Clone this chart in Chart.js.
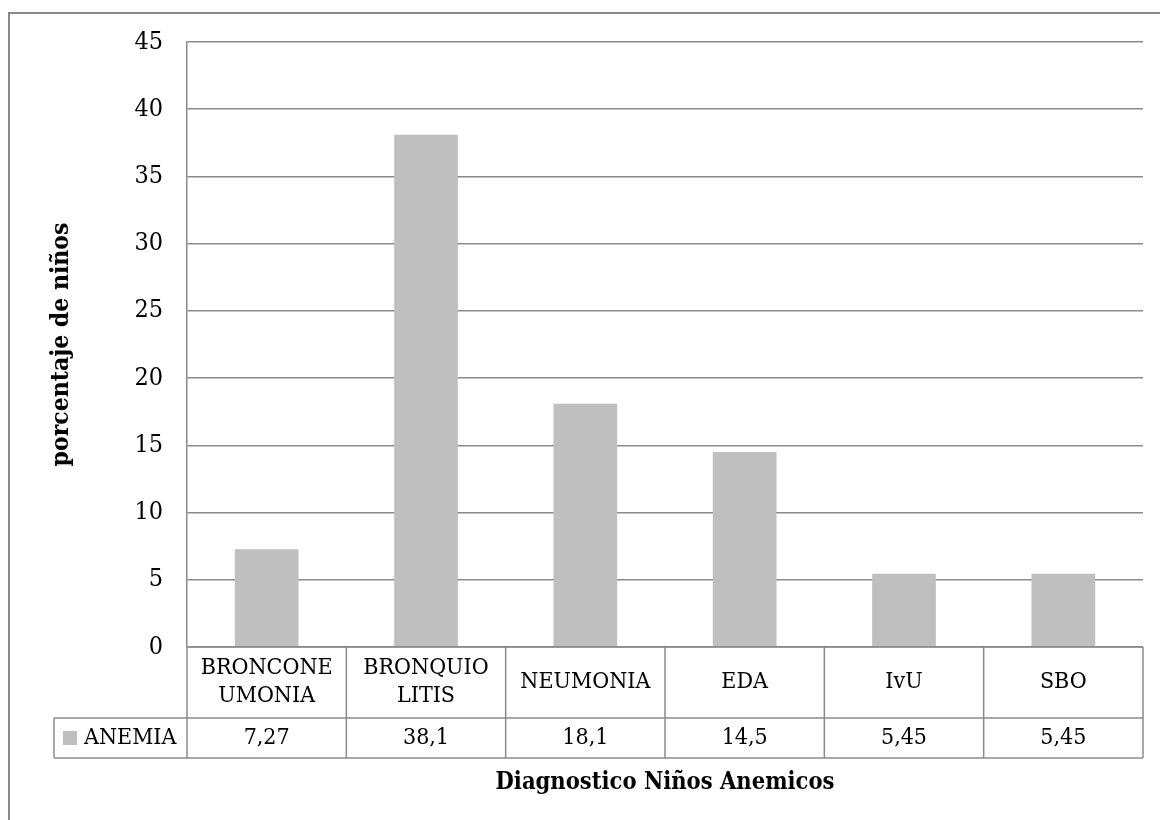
<!DOCTYPE html>
<html>
<head>
<meta charset="utf-8">
<script src="https://cdn.jsdelivr.net/npm/chart.js@4/dist/chart.umd.min.js"></script>
<style>
  html, body { margin: 0; padding: 0; background: #fff; }
  #wrap { width: 1160px; height: 820px; position: relative; }
</style>
</head>
<body>
<div id="wrap"><canvas id="c" width="1160" height="820"></canvas></div>
<script>
// Diagnosis categories (two-line labels are split into arrays)
const categories = [['BRONCONE', 'UMONIA'], ['BRONQUIO', 'LITIS'], 'NEUMONIA', 'EDA', 'IvU', 'SBO'];
const seriesName = 'ANEMIA';
const anemia = [7.27, 38.1, 18.1, 14.5, 5.45, 5.45];
const yMin = 0;
const yMax = 45;
const yStep = 5;
const yTitle = 'porcentaje de niños';
const xTitle = 'Diagnostico Niños Anemicos';

const SERIF = '"DejaVu Serif Condensed", "DejaVu Serif", serif';
const LINE = '#8a8a8a';
const BAR = '#bfbfbf';

// Decimal comma, as written in the data table
const fmt = v => String(v).replace('.', ',');

// Outer chart frame
const frame = {
  id: 'frame',
  beforeDraw(chart) {
    const ctx = chart.ctx;
    ctx.save();
    ctx.strokeStyle = LINE;
    ctx.lineWidth = 2;
    ctx.strokeRect(9, 13, chart.width + 20, chart.height + 20);
    ctx.restore();
  }
};

// Data table under the plot: category row, then the series row with its legend key
const dataTable = {
  id: 'dataTable',
  afterDraw(chart) {
    const { ctx, chartArea: a, scales: { x } } = chart;
    const labels = chart.data.labels;
    const values = chart.data.datasets[0].data;
    const n = labels.length;
    const w = (a.right - a.left) / n;
    const row1Top = a.bottom;
    const row1Bot = a.bottom + 71;
    const row2Bot = row1Bot + 40;
    const keyLeft = 54;

    ctx.save();
    ctx.strokeStyle = LINE;
    ctx.lineWidth = 1.5;
    ctx.beginPath();
    ctx.moveTo(a.left, row1Top); ctx.lineTo(a.right, row1Top);
    ctx.moveTo(keyLeft, row1Bot); ctx.lineTo(a.right, row1Bot);
    ctx.moveTo(keyLeft, row2Bot); ctx.lineTo(a.right, row2Bot);
    for (let i = 0; i <= n; i++) {
      const xx = a.left + i * w;
      ctx.moveTo(xx, row1Top); ctx.lineTo(xx, row2Bot);
    }
    ctx.moveTo(keyLeft, row1Bot); ctx.lineTo(keyLeft, row2Bot);
    ctx.stroke();

    ctx.fillStyle = '#000';
    ctx.font = '23px ' + SERIF;
    ctx.textAlign = 'center';
    ctx.textBaseline = 'middle';
    const mid1 = (row1Top + row1Bot) / 2;
    const mid2 = (row1Bot + row2Bot) / 2;
    labels.forEach((lab, i) => {
      const cx = x.getPixelForValue(i);
      const lines = Array.isArray(lab) ? lab : [lab];
      const lh = 28;
      lines.forEach((t, k) => {
        ctx.fillText(t, cx, mid1 + (k - (lines.length - 1) / 2) * lh);
      });
      ctx.fillText(fmt(values[i]), cx, mid2);
    });

    // legend key
    ctx.fillStyle = chart.data.datasets[0].backgroundColor;
    ctx.fillRect(63, mid2 - 7, 14, 14);
    ctx.fillStyle = '#000';
    ctx.textAlign = 'left';
    ctx.fillText(chart.data.datasets[0].label, 84, mid2);
    ctx.restore();
  }
};

new Chart(document.getElementById('c'), {
  type: 'bar',
  data: {
    labels: categories,
    datasets: [{
      label: seriesName,
      data: anemia,
      backgroundColor: BAR,
      borderWidth: 0,
      barPercentage: 0.4,
      categoryPercentage: 1
    }]
  },
  options: {
    responsive: false,
    animation: false,
    devicePixelRatio: 1,
    layout: { padding: { top: 42, right: 17, bottom: 0, left: 0 } },
    plugins: { legend: { display: false }, tooltip: { enabled: false } },
    scales: {
      x: {
        grid: { display: false },
        border: { display: false },
        ticks: { display: false },
        title: {
          display: true, text: xTitle, color: '#000',
          font: { family: SERIF, size: 23.5, weight: 'bold' },
          padding: { top: 0, bottom: 23 }
        },
        afterFit(s) { s.height = 173; }
      },
      y: {
        min: yMin, max: yMax,
        ticks: { stepSize: yStep, padding: 24, color: '#000', font: { family: SERIF, size: 25 } },
        grid: { color: LINE, lineWidth: 1.5, drawTicks: false },
        border: { display: true, color: LINE, width: 1.5 },
        title: {
          display: true, text: yTitle, color: '#000',
          font: { family: SERIF, size: 24.5, weight: 'bold' },
          padding: { top: 47, bottom: 0 }
        },
        afterFit(s) { s.width = 187; }
      }
    }
  },
  plugins: [frame, dataTable]
});
</script>
</body>
</html>
